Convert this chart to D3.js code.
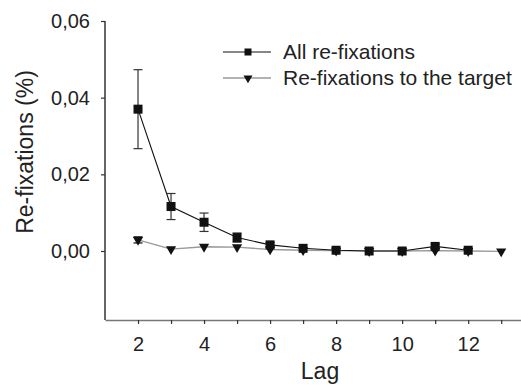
<!DOCTYPE html>
<html><head><meta charset="utf-8">
<script src="https://cdn.jsdelivr.net/npm/d3@7"></script>
<style>body{margin:0;background:#fff}svg{display:block}text{font-family:"Liberation Sans",Arial,sans-serif;fill:#222}</style>
</head><body><svg id="c" width="521" height="385"></svg>
<script>
const allLags = [2,3,4,5,6,7,8,9,10,11,12];
const allVals = [0.0370,0.0116,0.0075,0.0035,0.0016,0.0007,0.0002,0.0000,0.0000,0.0012,0.0002];
const allErr  = [0.0103,0.0034,0.0024,0.0012,0.0006,0.0003,0.0002,0.0002,0.0002,0.0006,0.0003];
const tgtLags = [2,3,4,5,6,7,8,9,10,11,12,13];
const tgtVals = [0.0029,0.0005,0.0011,0.0010,0.0004,0.0002,0.0001,0.0000,0.0000,0.0001,0.0000,-0.0001];
const tgtErr  = [0.0008,0.0002,0.0002,0.0002,0.0002,0.0001,0.0001,0.0001,0.0001,0.0002,0.0001,0.0001];
const yTicks = [0,0.02,0.04,0.06];
const xTicks = [2,3,4,5,6,7,8,9,10,11,12,13];
const xLabels = [2,4,6,8,10,12];
const legendLabels = ["All re-fixations","Re-fixations to the target"];

const svg = d3.select("#c");
const x = d3.scaleLinear().domain([1,13.6]).range([105,521]);
const y = d3.scaleLinear().domain([-0.018,0.06]).range([320,21]);
const fmt = d => d3.format(".2f")(d).replace(".",",");

// Y axis
const ya = svg.append("g").attr("transform","translate(105,0)")
  .call(d3.axisLeft(y).tickValues(yTicks).tickFormat(fmt).tickSize(4).tickPadding(11).tickSizeOuter(0));
ya.select(".domain").remove();
ya.append("line").attr("x1",0).attr("x2",0).attr("y1",y(0.06)).attr("y2",320).attr("stroke","#333").attr("stroke-width",1.5);
ya.selectAll(".tick line").attr("stroke","#333").attr("stroke-width",1.2);
ya.selectAll("text").style("font-size","20px").attr("fill","#222");

// X axis
const xa = svg.append("g").attr("transform","translate(0,320)")
  .call(d3.axisBottom(x).tickValues(xTicks).tickFormat(d => xLabels.includes(d)?d:"").tickSize(4).tickPadding(13).tickSizeOuter(0));
xa.select(".domain").attr("stroke","#777").attr("stroke-width",1.5);
xa.selectAll(".tick line").attr("stroke","#333").attr("stroke-width",1.2);
xa.selectAll("text").style("font-size","20px").attr("fill","#222");

// Titles
svg.append("text").attr("transform","translate(33,152) rotate(-90)").attr("text-anchor","middle").style("font-size","23px").text("Re-fixations (%)");
svg.append("text").attr("x",320).attr("y",379).attr("text-anchor","middle").style("font-size","23px").text("Lag");

const line = d3.line().x(d=>x(d[0])).y(d=>y(d[1]));
const tri = d3.symbol().type(d3.symbolTriangle).size(45);

function errorBars(lags, vals, errs, color){
  const g = svg.append("g").attr("stroke",color).attr("stroke-width",1.2);
  lags.forEach((l,i)=>{
    const cx = x(l), t = y(vals[i]+errs[i]), b = y(vals[i]-errs[i]);
    if (b - t < 3) return;
    g.append("line").attr("x1",cx).attr("x2",cx).attr("y1",t).attr("y2",b);
    g.append("line").attr("x1",cx-4.5).attr("x2",cx+4.5).attr("y1",t).attr("y2",t);
    g.append("line").attr("x1",cx-4.5).attr("x2",cx+4.5).attr("y1",b).attr("y2",b);
  });
}

// target series (grey line)
const tgtData = tgtLags.map((l,i)=>[l,tgtVals[i]]);
svg.append("path").datum(tgtData).attr("d",line).attr("fill","none").attr("stroke","#999").attr("stroke-width",1.4);
errorBars(tgtLags,tgtVals,tgtErr,"#111");
svg.append("g").selectAll("path").data(tgtData).join("path")
  .attr("d",tri).attr("transform",d=>`translate(${x(d[0])},${y(d[1])}) rotate(180)`).attr("fill","#111");

// all series
const allData = allLags.map((l,i)=>[l,allVals[i]]);
svg.append("path").datum(allData).attr("d",line).attr("fill","none").attr("stroke","#111").attr("stroke-width",1.1);
errorBars(allLags,allVals,allErr,"#333");
svg.append("g").selectAll("rect").data(allData).join("rect")
  .attr("x",d=>x(d[0])-4.5).attr("y",d=>y(d[1])-4.5).attr("width",9).attr("height",9).attr("fill","#111");

// Legend
const lg = svg.append("g");
const ly = [52,78];
lg.append("line").attr("x1",223).attr("x2",271).attr("y1",ly[0]).attr("y2",ly[0]).attr("stroke","#111").attr("stroke-width",1.2);
lg.append("rect").attr("x",244.5).attr("y",ly[0]-3.5).attr("width",7).attr("height",7).attr("fill","#111");
lg.append("line").attr("x1",223).attr("x2",271).attr("y1",ly[1]).attr("y2",ly[1]).attr("stroke","#999").attr("stroke-width",1.4);
lg.append("path").attr("d",d3.symbol().type(d3.symbolTriangle).size(35)).attr("transform",`translate(248,${ly[1]}) rotate(180)`).attr("fill","#111");
legendLabels.forEach((t,i)=>{
  lg.append("text").attr("x",283).attr("y",ly[i]+7).style("font-size","21px").text(t);
});
</script></body></html>
